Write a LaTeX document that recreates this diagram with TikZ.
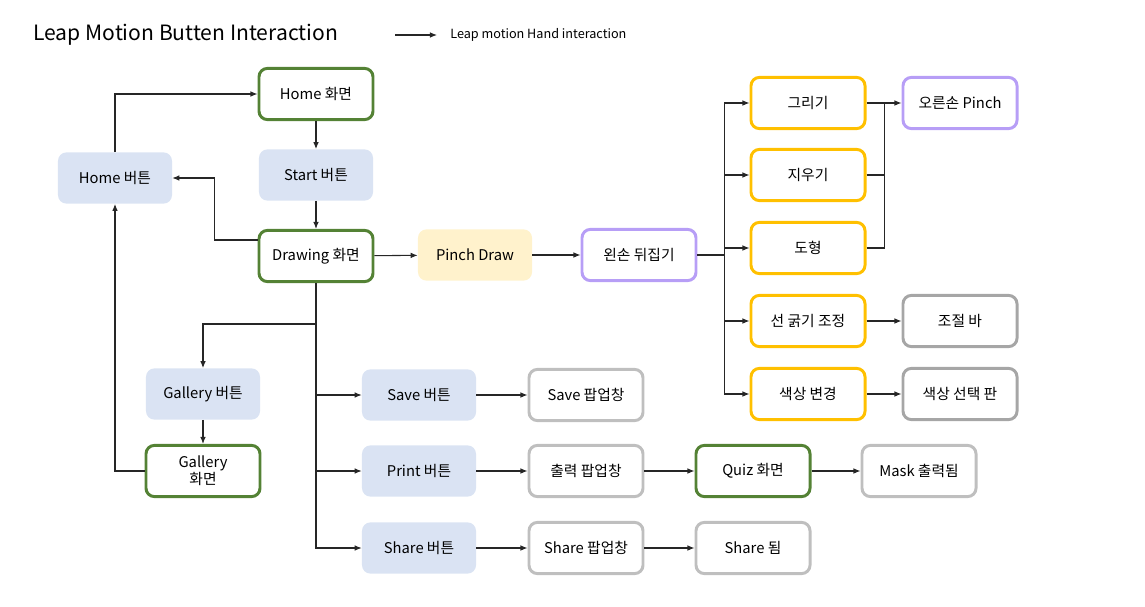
\documentclass[tikz,border=0pt]{standalone}
\usepackage{fontspec}
\setmainfont{Noto Sans CJK KR}
\usetikzlibrary{arrows.meta}
\definecolor{scrgreen}{HTML}{548235}
\definecolor{btnblue}{HTML}{DAE3F3}
\definecolor{pinchyel}{HTML}{FFF2CC}
\definecolor{handpurple}{HTML}{B79EF6}
\definecolor{tooloran}{HTML}{FFC000}
\definecolor{popgray}{HTML}{BFBFBF}
\definecolor{bargray}{HTML}{A6A6A6}
\definecolor{wire}{HTML}{262626}
\begin{document}
\begin{tikzpicture}[x=0.025cm,y=-0.025cm,
  box/.style={rounded corners=6pt, minimum width=2.85cm, minimum height=1.28cm,
    align=center, font=\fontsize{10.5}{12}\selectfont, inner sep=2pt},
  screen/.style={box, draw=scrgreen, line width=2.1pt},
  button/.style={box, fill=btnblue},
  pinch/.style={box, fill=pinchyel},
  hand/.style={box, draw=handpurple, line width=2.1pt},
  tool/.style={box, draw=tooloran, line width=2.1pt},
  popup/.style={box, draw=popgray, line width=2.1pt},
  result/.style={box, draw=bargray, line width=2.1pt},
  wired/.style={draw=wire, line width=0.75pt},
  arr/.style={wired, -{Latex[length=5pt,width=4pt]}}]
  \useasboundingbox (0,0) rectangle (1145,606);
  % title and legend
  \node [anchor=west, inner sep=0pt, font=\fontsize{15}{17}\selectfont] (title) at (33,35) {Leap Motion Butten Interaction};
  \coordinate (legA) at (395,35);
  \coordinate (legB) at (437,35);
  \draw [arr] (legA) -- (legB);
  \node [anchor=west, inner sep=0pt, font=\fontsize{9}{10}\selectfont] (legend) at (450,35) {Leap motion Hand interaction};
  % screens and buttons
  \node [screen] (homeScr) at (316,94) {Home 화면};
  \node [button] (startBtn) at (316,175) {Start 버튼};
  \node [button] (homeBtn) at (115,178) {Home 버튼};
  \node [screen] (drawScr) at (316,256) {Drawing 화면};
  \node [pinch] (pinchDraw) at (475,255) {Pinch Draw};
  \node [hand] (leftFlip) at (639,255) {왼손 뒤집기};
  \node [tool] (drawTool) at (808,103) {그리기};
  \node [tool] (eraseTool) at (808,175) {지우기};
  \node [tool] (shapeTool) at (808,248) {도형};
  \node [tool] (thickTool) at (808,321) {선 굵기 조정};
  \node [tool] (colorTool) at (808,394) {색상 변경};
  \node [hand] (rightPinch) at (960,103) {오른손 Pinch};
  \node [result] (thickBar) at (960,321) {조절 바};
  \node [result] (colorBoard) at (960,394) {색상 선택 판};
  \node [button] (galBtn) at (203,394) {Gallery 버튼};
  \node [screen] (galScr) at (203,471) {Gallery\\화면};
  \node [button] (saveBtn) at (419,395) {Save 버튼};
  \node [popup] (savePop) at (586,395) {Save 팝업창};
  \node [button] (printBtn) at (419,471) {Print 버튼};
  \node [popup] (printPop) at (586,471) {출력 팝업창};
  \node [screen] (quizScr) at (753,471) {Quiz 화면};
  \node [popup] (maskOut) at (919,471) {Mask 출력됨};
  \node [button] (shareBtn) at (419,548) {Share 버튼};
  \node [popup] (sharePop) at (586,548) {Share 팝업창};
  \node [popup] (shareDone) at (753,548) {Share 됨};
  % main flow
  \draw [arr] (homeScr) -- (startBtn);
  \draw [arr] (startBtn) -- (drawScr);
  \draw [arr] (drawScr) -- (pinchDraw);
  \draw [arr] (pinchDraw) -- (leftFlip);
  \draw [arr] ([yshift=0.4cm]drawScr.west) -- ++(-43,0) |- (homeBtn.east);
  \draw [arr] (homeBtn.north) |- (homeScr.west);
  \draw [arr] (galScr.west) -| (homeBtn.south);
  % drawing screen branches
  \draw [arr] (drawScr.south) |- (shareBtn.west);
  \draw [arr] (drawScr.south |- saveBtn.west) -- (saveBtn.west);
  \draw [arr] (drawScr.south |- printBtn.west) -- (printBtn.west);
  \draw [arr] (drawScr.south |- 0,324) -| (galBtn.north);
  \draw [arr] (galBtn) -- (galScr);
  \draw [arr] (saveBtn) -- (savePop);
  \draw [arr] (printBtn) -- (printPop);
  \draw [arr] (printPop) -- (quizScr);
  \draw [arr] (quizScr) -- (maskOut);
  \draw [arr] (shareBtn) -- (sharePop);
  \draw [arr] (sharePop) -- (shareDone);
  % left hand tools
  \draw [arr] (leftFlip.east) -- ++(27,0) |- (drawTool.west);
  \draw [arr] (leftFlip.east) -- ++(27,0) |- (eraseTool.west);
  \draw [arr] (leftFlip.east) -- ++(27,0) |- (shapeTool.west);
  \draw [arr] (leftFlip.east) -- ++(27,0) |- (thickTool.west);
  \draw [arr] (leftFlip.east) -- ++(27,0) |- (colorTool.west);
  \draw [arr] (drawTool) -- (rightPinch);
  \draw [wired] (shapeTool.east) -- ++(18,0) |- (drawTool.east);
  \draw [wired] (eraseTool.east) -- ++(18,0);
  \draw [arr] (thickTool) -- (thickBar);
  \draw [arr] (colorTool) -- (colorBoard);
\end{tikzpicture}
\end{document}
